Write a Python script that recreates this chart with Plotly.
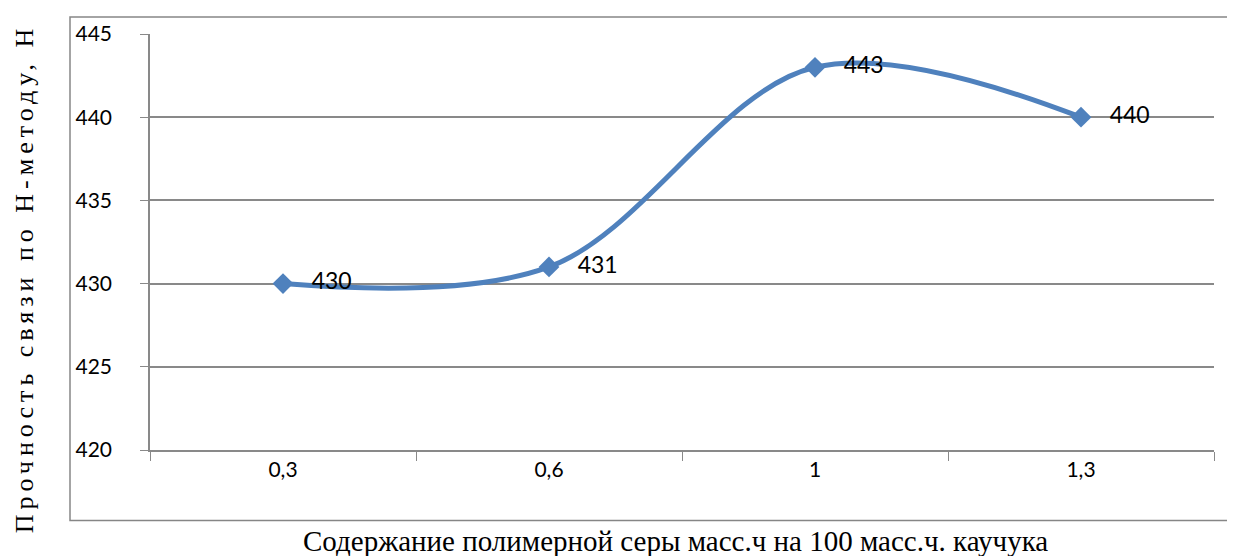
import plotly.graph_objects as go

# содержание серы, масс.ч на 100 масс.ч. каучука
sulfur = ['0,3', '0,6', '1', '1,3']
# прочность связи по Н-методу, Н
strength = [430, 431, 443, 440]
labels = ['\u00a0\u00a0\u00a0' + str(v) for v in strength]

# страница имеет отступ body 8px
OFF = 8
W, H = 1235 - OFF, 556 - OFF
L, R, T, B = 142, 21, 23, 106
pw = W - L - R
ph = H - T - B


def px_x(x):
    return (x - OFF - L) / pw


def px_y(y):
    return (H - B - (y - OFF)) / ph


fig = go.Figure()
fig.add_scatter(
    x=sulfur, y=strength, mode='lines+markers+text',
    line=dict(color='#4F81BD', width=5, shape='spline', smoothing=1),
    marker=dict(symbol='diamond', size=16, color='#4F81BD'),
    text=labels, textposition='middle right',
    textfont=dict(family='Lato', size=23, color='black'),
    cliponaxis=False, showlegend=False,
)

fig.update_layout(
    width=W, height=H,
    margin=dict(l=L, r=R, t=T, b=B),
    plot_bgcolor='white', paper_bgcolor='white',
    font=dict(family='Lato', size=21, color='black'),
)
fig.update_xaxes(
    type='category', tickson='boundaries', ticks='outside', ticklen=9,
    tickcolor='#898989', showline=True, linecolor='#898989', linewidth=1.5,
    showgrid=False, range=[-0.5, 3.5],
)
fig.update_yaxes(
    range=[420, 445], dtick=5, ticks='outside', ticklen=8, tickcolor='#898989',
    ticklabelstandoff=24,
    showline=True, linecolor='#898989', linewidth=1.5,
    showgrid=True, gridcolor='#898989', gridwidth=1.5, zeroline=False,
)

# рамка вокруг области диаграммы
fig.add_shape(type='rect', xref='paper', yref='paper',
              x0=px_x(70), x1=px_x(1240), y0=px_y(521), y1=px_y(14),
              line=dict(color='#868686', width=1.5))

fig.add_annotation(text='Содержание полимерной серы масс.ч на 100 масс.ч. каучука',
                   xref='paper', yref='paper', x=px_x(675), y=px_y(542),
                   showarrow=False, xanchor='center', yanchor='middle',
                   font=dict(family='Liberation Serif', size=29))
fig.add_annotation(text='<span style="letter-spacing:5px">Прочность связи по Н-методу, Н</span>',
                   xref='paper', yref='paper', x=px_x(24), y=px_y(277),
                   showarrow=False, textangle=-90, xanchor='center', yanchor='middle',
                   font=dict(family='Liberation Serif', size=26))

fig.write_html('out.html')
